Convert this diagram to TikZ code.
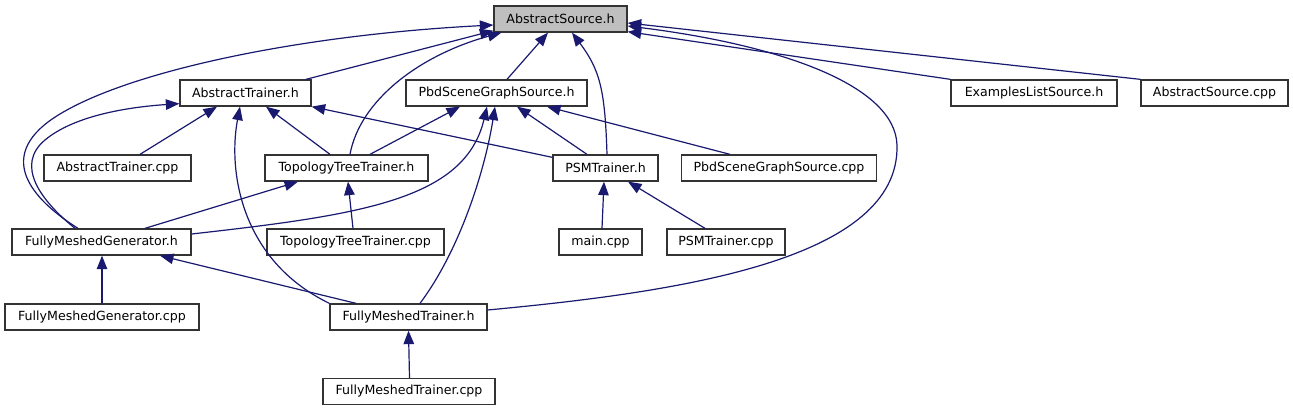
\documentclass[tikz,border=0pt]{standalone}
\usepackage{fontspec}
\setmainfont{DejaVu Sans}
\usetikzlibrary{arrows.meta}
\definecolor{edgeblue}{HTML}{191970}
\definecolor{boxgray}{HTML}{BFBFBF}
\tikzset{
  filebox/.style={draw=black!80, line width=1.3pt, fill=white, rectangle, inner sep=0pt,
    minimum height=26pt, text=black, font=\fontsize{12.6}{15}\selectfont},
  dep/.style={draw=edgeblue, line width=1.2pt, -{Triangle[length=13.5pt,width=10.5pt]}, fill=none}
}
\begin{document}
\begin{tikzpicture}[x=1pt,y=-1pt]
\useasboundingbox[fill=white] (0,0) rectangle (1293,411);
% nodes
\node[filebox, fill=boxgray, minimum width=133pt] (AS) at (560.5,19) {AbstractSource.h};
\node[filebox, minimum width=131pt] (AT) at (245.5,93) {AbstractTrainer.h};
\node[filebox, minimum width=181pt] (PSG) at (496.5,93) {PbdSceneGraphSource.h};
\node[filebox, minimum width=166pt] (ELS) at (1034,93) {ExamplesListSource.h};
\node[filebox, minimum width=147pt] (ASC) at (1214.5,93) {AbstractSource.cpp};
\node[filebox, minimum width=147pt] (ATC) at (117.5,168) {AbstractTrainer.cpp};
\node[filebox, minimum width=163pt] (TTT) at (346.5,168) {TopologyTreeTrainer.h};
\node[filebox, minimum width=105pt] (PSM) at (605.5,168) {PSMTrainer.h};
\node[filebox, minimum width=195pt] (PSGC) at (779,168) {PbdSceneGraphSource.cpp};
\node[filebox, minimum width=179pt] (FMG) at (101.5,242) {FullyMeshedGenerator.h};
\node[filebox, minimum width=177pt] (TTTC) at (355.5,242) {TopologyTreeTrainer.cpp};
\node[filebox, minimum width=83pt] (MAIN) at (600.5,242) {main.cpp};
\node[filebox, minimum width=118pt] (PSMC) at (726,242) {PSMTrainer.cpp};
\node[filebox, minimum width=194pt] (FMGC) at (102,317) {FullyMeshedGenerator.cpp};
\node[filebox, minimum width=157pt] (FMT) at (408.5,317) {FullyMeshedTrainer.h};
\node[filebox, minimum width=172pt] (FMTC) at (409,391.5) {FullyMeshedTrainer.cpp};
% edges into AbstractSource.h
\draw[dep] ([xshift=60.5pt]AT.north) -- ([yshift=2pt]AS.south west);
\draw[dep] ([xshift=-23.5pt]FMG.north) .. controls (25,195) and (-7,150) .. (67,110)
  .. controls (139,70) and (300,35) .. ([yshift=-6pt]AS.west);
\draw[dep] ([xshift=3.5pt]TTT.north) .. controls (360,100) and (420,55) .. ([xshift=8pt]AS.south west);
\draw[dep] ([xshift=10.5pt]PSG.north) -- ([xshift=-12.5pt]AS.south);
\draw[dep] ([xshift=1.5pt]PSM.north) .. controls (605,90) and (600,70) .. ([xshift=11.5pt]AS.south);
\draw[dep] ([yshift=7pt]FMT.east) .. controls (680,292) and (900,260) .. (897,145)
  .. controls (895,85) and (780,45) .. ([yshift=-7pt]AS.east);
\draw[dep] (ELS.north west) -- ([yshift=1pt]AS.south east);
\draw[dep] (ASC.north west) -- ([yshift=-4pt]AS.east);
% edges into AbstractTrainer.h
\draw[dep] ([xshift=-26.5pt]FMG.north) .. controls (40,200) and (15,165) .. (45,140)
  .. controls (75,115) and (130,107) .. ([yshift=3pt]AT.south west);
\draw[dep] ([xshift=22.5pt]ATC.north) -- ([xshift=-28.5pt]AT.south);
\draw[dep] (FMT.north west) .. controls (240,260) and (228,170) .. ([xshift=-5.5pt]AT.south);
\draw[dep] ([xshift=-16.5pt]TTT.north) -- ([xshift=20.5pt]AT.south);
\draw[dep] ([yshift=-3pt]PSM.north west) -- (AT.south east);
% edges into PbdSceneGraphSource.h
\draw[dep] ([xshift=23.5pt]TTT.north) -- ([xshift=-36.5pt]PSG.south);
\draw[dep] ([yshift=8pt]FMG.east) .. controls (360,215) and (465,200) .. ([xshift=-9.5pt]PSG.south);
\draw[dep] ([xshift=11.5pt]FMT.north) .. controls (460,250) and (485,170) .. ([xshift=-1.5pt]PSG.south);
\draw[dep] ([xshift=-18.5pt]PSM.north) -- ([xshift=20.5pt]PSG.south);
\draw[dep] ([xshift=-49pt]PSGC.north) -- ([xshift=50.5pt]PSG.south);
% edges into TopologyTreeTrainer.h
\draw[dep] ([xshift=43.5pt]FMG.north) -- ([xshift=-48.5pt]TTT.south);
\draw[dep] ([xshift=-2.5pt]TTTC.north) -- ([xshift=1.5pt]TTT.south);
% edges into PSMTrainer.h
\draw[dep] ([xshift=1.5pt]MAIN.north) -- ([xshift=-1.5pt]PSM.south);
\draw[dep] ([xshift=-21pt]PSMC.north) -- ([xshift=22.5pt]PSM.south);
% edges into FullyMeshedGenerator.h
\draw[dep] (FMGC.north) -- ([xshift=0.5pt]FMG.south);
\draw[dep] ([xshift=-52.5pt]FMT.north) -- ([xshift=58.5pt]FMG.south);
% edge into FullyMeshedTrainer.h
\draw[dep] ([xshift=0.5pt]FMTC.north) -- (FMT.south);
\end{tikzpicture}
\end{document}
